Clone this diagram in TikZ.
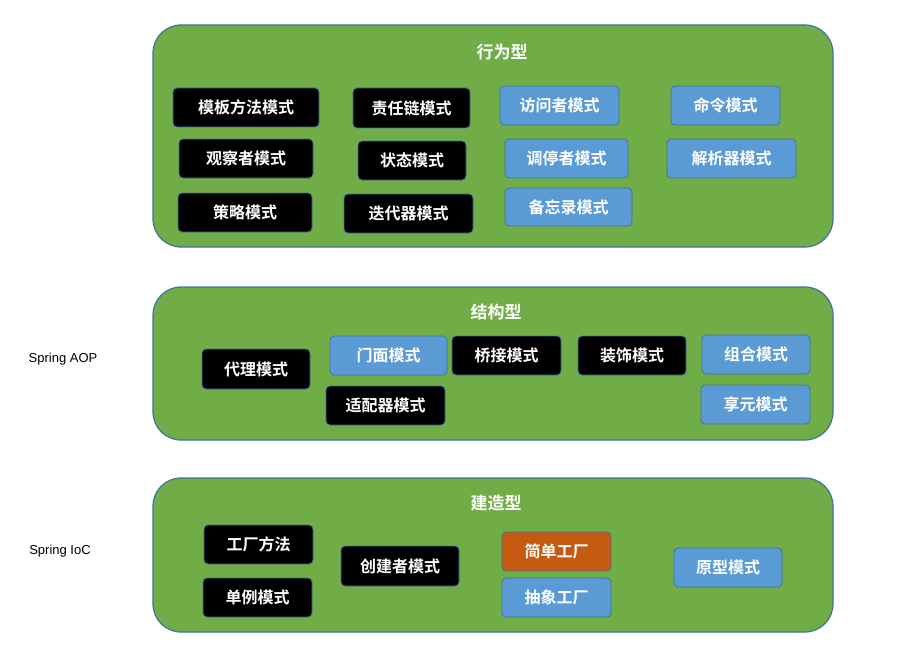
\documentclass[tikz,border=0pt]{standalone}
\usepackage{fontspec}
\setmainfont{Liberation Sans}
\newfontfamily\cjk{Noto Sans CJK SC}[BoldFont={Noto Sans CJK SC Bold}]
\definecolor{grn}{HTML}{70AD47}
\definecolor{bord}{HTML}{41719C}
\definecolor{blu}{HTML}{5B9BD5}
\definecolor{org}{HTML}{C55A11}
\begin{document}
\begin{tikzpicture}[x=1pt,y=-1pt,
 group/.style={draw=bord,line width=1.2pt,fill=grn,rounded corners=28pt},
 ttl/.style={text=white,font=\cjk\bfseries\fontsize{17}{17}\selectfont},
 pb/.style={draw=bord,line width=0.8pt,rounded corners=4pt,text=white,font=\cjk\bfseries\fontsize{16}{16}\selectfont,inner sep=0pt},
 lbl/.style={font=\fontsize{13}{13}\selectfont}]
\useasboundingbox (0,0) rectangle (914,669);
\draw[group] (153,25) rectangle (833,247);
\draw[group] (153,287) rectangle (833,440);
\draw[group] (153,478) rectangle (833,632);
\node[ttl] (t1) at (502,52) {行为型};
\node[ttl] (t2) at (496,312) {结构型};
\node[ttl] (t3) at (496,503) {建造型};
\newcommand{\pbox}[7]{\node[pb,fill=#6,minimum width={#4-#2},minimum height={#5-#3}] (#1) at ({(#2+#4)/2},{(#3+#5)/2}) {#7};}
\pbox{a1}{173}{88}{319}{127}{black}{模板方法模式}
\pbox{a2}{179}{139}{313}{178}{black}{观察者模式}
\pbox{a3}{178}{193}{312}{232}{black}{策略模式}
\pbox{a4}{353}{88}{470}{128}{black}{责任链模式}
\pbox{a5}{358}{141}{466}{180}{black}{状态模式}
\pbox{a6}{344}{194}{473}{233}{black}{迭代器模式}
\pbox{a7}{500}{86}{619}{125}{blu}{访问者模式}
\pbox{a8}{505}{139}{628}{178}{blu}{调停者模式}
\pbox{a9}{505}{188}{632}{226}{blu}{备忘录模式}
\pbox{a10}{671}{86}{780}{125}{blu}{命令模式}
\pbox{a11}{667}{139}{796}{178}{blu}{解析器模式}
\pbox{b1}{202}{349}{310}{389}{black}{代理模式}
\pbox{b2}{330}{336}{447}{375}{blu}{门面模式}
\pbox{b3}{326}{386}{445}{425}{black}{适配器模式}
\pbox{b4}{452}{336}{561}{375}{black}{桥接模式}
\pbox{b5}{578}{336}{686}{375}{black}{装饰模式}
\pbox{b6}{702}{335}{810}{374}{blu}{组合模式}
\pbox{b7}{701}{385}{810}{424}{blu}{享元模式}
\pbox{c1}{204}{525}{313}{564}{black}{工厂方法}
\pbox{c2}{203}{578}{312}{617}{black}{单例模式}
\pbox{c3}{341}{546}{459}{586}{black}{创建者模式}
\pbox{c4}{502}{532}{611}{571}{org}{简单工厂}
\pbox{c5}{502}{578}{611}{617}{blu}{抽象工厂}
\pbox{c6}{674}{548}{782}{587}{blu}{原型模式}
\node[lbl] (l1) at (63,359) {Spring AOP};
\node[lbl] (l2) at (60,551) {Spring IoC};
\end{tikzpicture}
\end{document}
